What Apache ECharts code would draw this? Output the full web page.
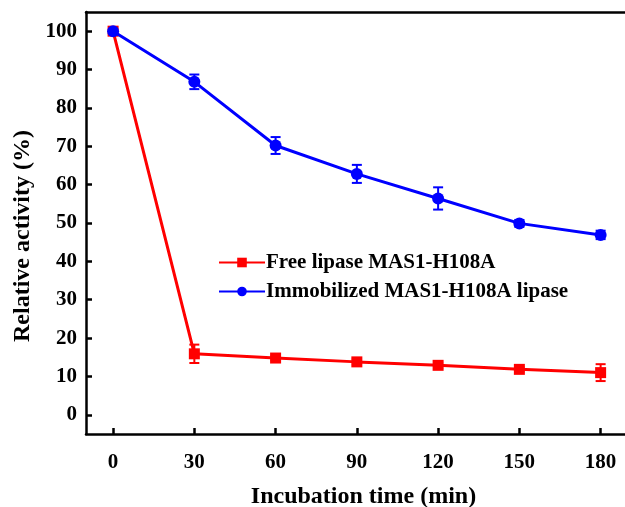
<!DOCTYPE html>
<html><head><meta charset="utf-8">
<script src="https://cdn.jsdelivr.net/npm/echarts@6/dist/echarts.min.js"></script>
<style>html,body{margin:0;padding:0;background:#fff}#c{width:625px;height:507px}</style>
</head><body><div id="c"></div>
<script>
var times = [0, 30, 60, 90, 120, 150, 180];
var xTicks = [0, 30, 60, 90, 120, 150, 180];
var yTicks = [0, 10, 20, 30, 40, 50, 60, 70, 80, 90, 100];
var freeName = 'Free lipase MAS1-H108A';
var immName = 'Immobilized MAS1-H108A lipase';
var freeVals = [100, 15.9, 14.8, 13.8, 12.9, 11.85, 11.0];
var freeErr = [0.5, 2.4, 0.6, 0.7, 0.7, 0.6, 2.2];
var immVals = [100, 86.8, 70.2, 62.8, 56.4, 49.9, 46.9];
var immErr = [0.8, 1.9, 2.2, 2.35, 2.9, 0.9, 1.1];

var FONT = '"Liberation Serif","Times New Roman",serif';
function errData(v, e) { return times.map(function (t, i) { return [t, v[i] - e[i], v[i] + e[i]]; }); }
function errSeries(v, e, color) {
  return {
    type: 'custom', silent: true, z: 3,
    data: errData(v, e),
    encode: { x: 0, y: [1, 2] },
    renderItem: function (params, api) {
      var lo = api.coord([api.value(0), api.value(1)]);
      var hi = api.coord([api.value(0), api.value(2)]);
      var hw = 5;
      var st = { stroke: color, lineWidth: 2 };
      return { type: 'group', children: [
        { type: 'line', shape: { x1: lo[0], y1: lo[1], x2: hi[0], y2: hi[1] }, style: st },
        { type: 'line', shape: { x1: lo[0] - hw, y1: lo[1], x2: lo[0] + hw, y2: lo[1] }, style: st },
        { type: 'line', shape: { x1: hi[0] - hw, y1: hi[1], x2: hi[0] + hw, y2: hi[1] }, style: st }
      ]};
    }
  };
}
var chart = echarts.init(document.getElementById('c'));
chart.setOption({
  backgroundColor: '#fff',
  animation: false,
  grid: { left: 86, top: 12, right: 0, bottom: 73, outerBoundsMode: 'none', containLabel: false },
  legend: {
    left: 213, top: 247, orient: 'vertical', itemWidth: 46, itemHeight: 12, itemGap: 8,
    textStyle: { fontFamily: FONT, fontWeight: 'bold', fontSize: 21, color: '#000', padding: [0, 0, 0, -4] },
    data: [freeName, immName]
  },
  xAxis: [{
    type: 'value', min: -10, max: 189, position: 'bottom',
    name: 'Incubation time (min)', nameLocation: 'middle', nameGap: 51,
    nameTextStyle: { fontFamily: FONT, fontWeight: 'bold', fontSize: 24, color: '#000', padding: [0, 0, 0, 16] },
    axisLine: { show: true, onZero: false, lineStyle: { color: '#000', width: 2.5 } },
    axisTick: { show: true, inside: true, length: 6, customValues: xTicks, lineStyle: { color: '#000', width: 2.5 } },
    axisLabel: { customValues: xTicks, margin: 18, fontFamily: FONT, fontWeight: 'bold', fontSize: 21, color: '#000' },
    splitLine: { show: false }
  }, {
    type: 'value', min: -10, max: 189, position: 'top',
    axisLine: { show: true, onZero: false, lineStyle: { color: '#000', width: 2.5 } },
    axisTick: { show: false }, axisLabel: { show: false }, splitLine: { show: false }
  }],
  yAxis: [{
    type: 'value', min: -5, max: 105, position: 'left',
    name: 'Relative activity (%)', nameLocation: 'middle', nameGap: 46, nameRotate: 90,
    nameTextStyle: { fontFamily: FONT, fontWeight: 'bold', fontSize: 24, color: '#000', padding: [0, 26, 0, 0] },
    axisLine: { show: true, onZero: false, lineStyle: { color: '#000', width: 2.5 } },
    axisTick: { show: true, inside: true, length: 6, customValues: yTicks, lineStyle: { color: '#000', width: 2.5 } },
    axisLabel: { customValues: yTicks, margin: 9, fontFamily: FONT, fontWeight: 'bold', fontSize: 21, color: '#000' },
    splitLine: { show: false }
  }],
  series: [
    errSeries(freeVals, freeErr, '#ff0000'),
    {
      name: freeName, type: 'line', z: 4,
      data: times.map(function (t, i) { return [t, freeVals[i]]; }),
      symbol: 'rect', symbolSize: 11,
      lineStyle: { color: '#ff0000', width: 3 },
      itemStyle: { color: '#ff0000' }
    },
    errSeries(immVals, immErr, '#0000ff'),
    {
      name: immName, type: 'line', z: 5,
      data: times.map(function (t, i) { return [t, immVals[i]]; }),
      symbol: 'circle', symbolSize: 12,
      lineStyle: { color: '#0000ff', width: 3 },
      itemStyle: { color: '#0000ff' }
    }
  ]
});
</script></body></html>
